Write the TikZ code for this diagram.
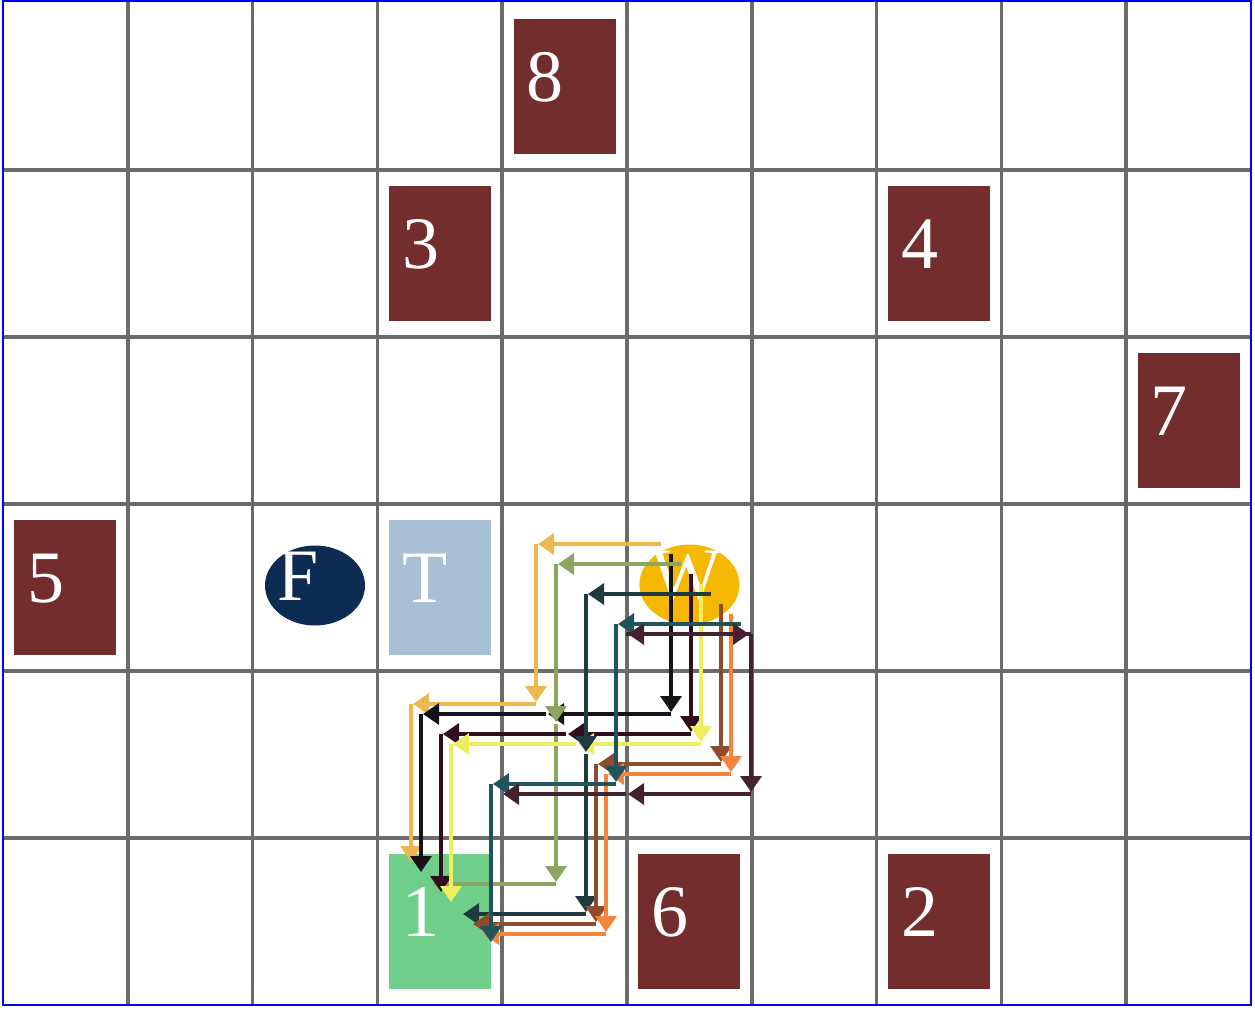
\documentclass[tikz,border=0pt]{standalone}
\usepackage{fontspec}
\setmainfont{Liberation Serif}
\usepackage{xcolor}
\usetikzlibrary{arrows.meta,shapes.geometric}

\definecolor{obstred}{HTML}{732D2D}
\definecolor{trapblue}{HTML}{A8BFD6}
\definecolor{goalgreen}{HTML}{6FCF8A}
\definecolor{firenavy}{HTML}{0D2C54}
\definecolor{wgold}{HTML}{F5B800}
\definecolor{pathgold}{HTML}{EFB74F}
\definecolor{pathblack}{HTML}{16121A}
\definecolor{patholive}{HTML}{8BA55F}
\definecolor{pathmaroon}{HTML}{300E20}
\definecolor{pathyellow}{HTML}{EEEE5E}
\definecolor{pathslate}{HTML}{1F3B40}
\definecolor{pathbrown}{HTML}{8F4B2E}
\definecolor{pathorange}{HTML}{F2843C}
\definecolor{pathteal}{HTML}{22545E}
\definecolor{pathplum}{HTML}{45222F}

% one walk: colour, offset index, list of moves dx/dy
\newcommand{\walk}[3]{%
  \pgfmathsetmacro{\wx}{661+10*#2}\pgfmathsetmacro{\wy}{544+10*#2}%
  \xdef\wx{\wx}\xdef\wy{\wy}%
  \foreach \dx/\dy in {#3}{%
    \draw[move,#1] (\wx,\wy) -- ++({125*(\dx)},{160*(\dy)});
    \pgfmathsetmacro{\nx}{\wx+125*(\dx)}\pgfmathsetmacro{\ny}{\wy+160*(\dy)}%
    \xdef\wx{\nx}\xdef\wy{\ny}%
  }}

\begin{document}
\begin{tikzpicture}[
  x=1pt, y=-1pt,
  gridline/.style={line width=3.5pt, draw=black!58},
  obst/.style={fill=obstred, minimum width=102pt, minimum height=135pt, inner sep=0pt},
  disk/.style={ellipse, minimum width=100pt, minimum height=80pt, inner sep=0pt},
  lab/.style={anchor=base west, inner sep=0pt, text=white, font=\fontsize{74}{74}\selectfont},
  move/.style={line width=3.5pt, shorten >=2pt, -{Triangle[length=16pt,width=21pt]}}
]
  \useasboundingbox (0,0) rectangle (1255,1009);

  % grid
  \foreach \i in {1,...,9}
    \draw[gridline] ({3+124.8*\i},1) -- ({3+124.8*\i},1005);
  \foreach \j in {1,...,5}
    \draw[gridline] (3,{3+167*\j}) -- (1251,{3+167*\j});
  \draw[blue, line width=1.5pt] (3,1) rectangle (1251,1005);

  % cells
  \foreach \lab/\i/\j in {8/4/0,3/3/1,4/7/1,7/9/2,5/0/3,6/5/5,2/7/5}
    \node[obst] (b\lab) at ({3+124.8*(\i+0.5)},{3+167*(\j+0.5)}) {};
  \node[obst, fill=trapblue] (bT) at ({3+124.8*3.5},{3+167*3.5}) {};
  \node[obst, fill=goalgreen] (b1) at ({3+124.8*3.5},{3+167*5.5}) {};
  \node[disk, fill=firenavy] (bF) at ({3+124.8*2.5},{1+167*3.5}) {};
  \node[disk, fill=wgold] (bW) at ({3+124.8*5.5},{167*3.5}) {};

  \foreach \lab in {8,3,4,7,5,6,2,T,1,F,W}
    \node[lab] (l\lab) at ([xshift=-38pt,yshift=-15pt]b\lab.center) {\lab};

  % walks
  \walk{pathgold}{0}{-1/0,0/1,-1/0,0/1}
  \walk{pathblack}{1}{0/1,-1/0,-1/0,0/1}
  \walk{patholive}{2}{-1/0,0/1,0/1,-1/0}
  \walk{pathmaroon}{3}{0/1,-1/0,-1/0,0/1}
  \walk{pathyellow}{4}{0/1,-1/0,-1/0,0/1}
  \walk{pathslate}{5}{-1/0,0/1,0/1,-1/0}
  \walk{pathbrown}{6}{0/1,-1/0,0/1,-1/0}
  \walk{pathorange}{7}{0/1,-1/0,0/1,-1/0}
  \walk{pathteal}{8}{-1/0,0/1,-1/0,0/1}
  \walk{pathplum}{9}{-1/0,1/0,0/1,-1/0,-1/0}
\end{tikzpicture}
\end{document}
